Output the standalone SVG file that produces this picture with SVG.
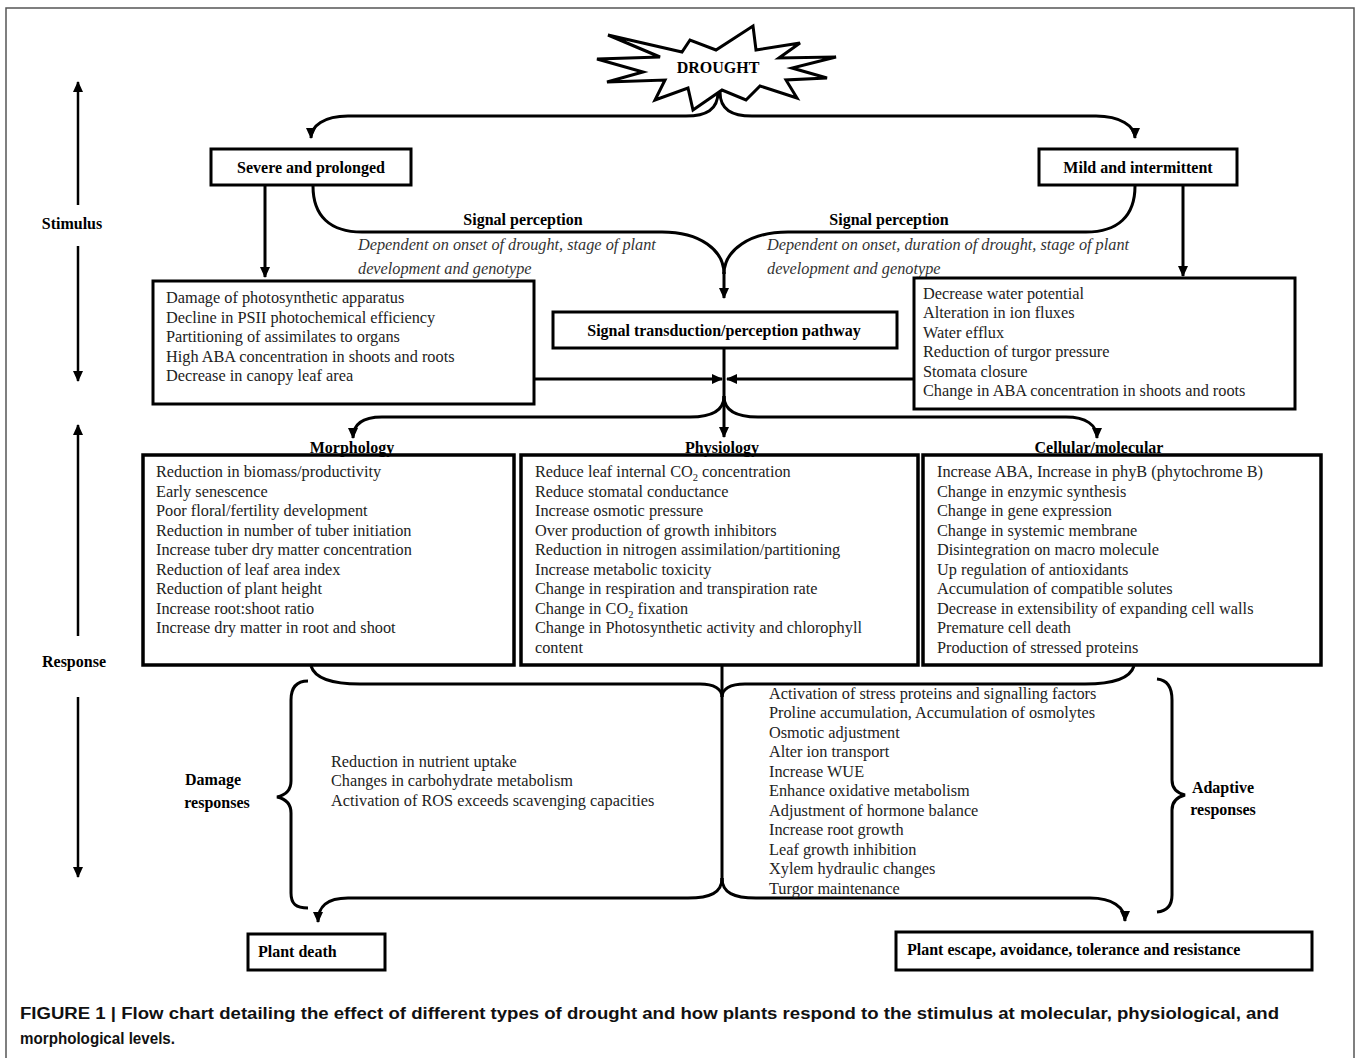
<svg xmlns="http://www.w3.org/2000/svg" width="1360" height="1058" viewBox="0 0 1360 1058">
<defs>
<marker id="ah" markerWidth="12" markerHeight="12" refX="10" refY="6" orient="auto" markerUnits="userSpaceOnUse">
<path d="M0,1 L11,6 L0,11 Z" fill="#000"/>
</marker>
<style>
.box{fill:#fff;stroke:#000;stroke-width:3}
.tbox{fill:#fff;stroke:#000;stroke-width:3.5}
.ln{fill:none;stroke:#000;stroke-width:3}
.ax{fill:none;stroke:#000;stroke-width:2.5}
.b{font-family:"Liberation Serif","Times New Roman",serif;font-weight:bold;font-size:16px;fill:#000}
.t{font-family:"Liberation Serif","Times New Roman",serif;font-size:16.3px;fill:#222}
.i{font-family:"Liberation Serif","Times New Roman",serif;font-style:italic;font-size:16.3px;fill:#333}
.cap{font-family:"Liberation Sans",Arial,sans-serif;font-weight:bold;font-size:16px;fill:#111}
</style>
</defs>
<rect width="1360" height="1058" fill="#fff"/>
<path d="M6,1058 L6,8 L1354,8 L1354,1058" fill="none" stroke="#555" stroke-width="1.5"/>

<g id="connectors">
<path class="ln" d="M718,92 C718,110 706,116 686,116 L348,116 C324,116 311,126 311,138" marker-end="url(#ah)"/>
<path class="ln" d="M720,92 C720,110 732,116 752,116 L1096,116 C1120,116 1135,126 1135,138" marker-end="url(#ah)"/>
<path class="ln" d="M265,186 L265,277" marker-end="url(#ah)"/>
<path class="ln" d="M1183,186 L1183,276" marker-end="url(#ah)"/>
<path class="ln" d="M313,186 C313,216 330,232 362,232 L662,232 C700,232 724,250 724,274"/>
<path class="ln" d="M1135,186 C1135,216 1118,232 1086,232 L788,232 C750,232 724,250 724,274"/>
<path class="ln" d="M724,272 L724,298" marker-end="url(#ah)"/>
<path class="ln" d="M724,348 L724,437" marker-end="url(#ah)"/>
<path class="ln" d="M535,379 L722,379" marker-end="url(#ah)"/>
<path class="ln" d="M914,379 L727,379" marker-end="url(#ah)"/>
<path class="ln" d="M724,396 C724,411 712,417 690,417 L382,417 C362,417 353,425 353,438" marker-end="url(#ah)"/>
<path class="ln" d="M724,396 C724,411 736,417 758,417 L1066,417 C1086,417 1097,425 1097,438" marker-end="url(#ah)"/>
<path class="ln" d="M722,665 L722,882"/>
<path class="ln" d="M311,666 C315,679 332,684 360,684 L700,684 C714,684 722,689 722,697"/>
<path class="ln" d="M1134,666 C1130,679 1112,684 1085,684 L745,684 C730,684 722,689 722,697"/>
<path class="ln" d="M722,878 C722,893 710,898 688,898 L348,898 C326,898 318,907 318,922" marker-end="url(#ah)"/>
<path class="ln" d="M722,878 C722,893 734,898 756,898 L1090,898 C1112,898 1125,907 1125,921" marker-end="url(#ah)"/>
<path class="ln" d="M308,681 C296,681 291,688 291,700 L291,781 C291,790 286,795 277,797 C286,799 291,804 291,813 L291,893 C291,904 296,908 308,908"/>
<path class="ln" d="M1157,679 C1168,680 1172,688 1172,700 L1172,780 C1172,789 1177,793 1185,795 C1177,797 1172,801 1172,810 L1172,895 C1172,905 1168,911 1157,912"/>
<path class="ax" d="M78,205 L78,82" marker-end="url(#ah)"/>
<path class="ax" d="M78,246 L78,381" marker-end="url(#ah)"/>
<path class="ax" d="M78,636 L78,425" marker-end="url(#ah)"/>
<path class="ax" d="M78,697 L78,877" marker-end="url(#ah)"/>
</g>

<g id="drought">
<polygon points="608,35 682,52 690,40 716,50 753,26 756,50 800,43 779,58 836,57 792,68 827,78 786,80 797,98 760,86 746,100 722,90 693,110 688,88 655,100 665,80 607,82 643,72 597,59 660,57" fill="#fff" stroke="#000" stroke-width="3" stroke-linejoin="miter"/>
<text class="b" x="718" y="73" text-anchor="middle">DROUGHT</text>
</g>

<g id="stimulus-label"><text class="b" x="72" y="229" text-anchor="middle">Stimulus</text></g>
<g id="response-label"><text class="b" x="74" y="667" text-anchor="middle">Response</text></g>

<g id="severe">
<rect class="box" x="211" y="149" width="200" height="36"/>
<text class="b" x="311" y="173" text-anchor="middle">Severe and prolonged</text>
</g>
<g id="mild">
<rect class="box" x="1039" y="149" width="198" height="36"/>
<text class="b" x="1138" y="173" text-anchor="middle">Mild and intermittent</text>
</g>

<g id="signal-left">
<text class="b" x="523" y="225" text-anchor="middle">Signal perception</text>
<text class="i" x="358" y="250">Dependent on onset of drought, stage of plant</text>
<text class="i" x="358" y="274">development and genotype</text>
</g>
<g id="signal-right">
<text class="b" x="889" y="225" text-anchor="middle">Signal perception</text>
<text class="i" x="767" y="250">Dependent on onset, duration of drought, stage of plant</text>
<text class="i" x="767" y="274">development and genotype</text>
</g>

<g id="severe-effects">
<rect class="box" x="153" y="281" width="381" height="123"/>
<text class="t" x="166" y="303">Damage of photosynthetic apparatus</text>
<text class="t" x="166" y="323">Decline in PSII photochemical efficiency</text>
<text class="t" x="166" y="342">Partitioning of assimilates to organs</text>
<text class="t" x="166" y="362">High ABA concentration in shoots and roots</text>
<text class="t" x="166" y="381">Decrease in canopy leaf area</text>
</g>

<g id="mild-effects">
<rect class="box" x="914" y="278" width="381" height="131"/>
<text class="t" x="923" y="299">Decrease water potential</text>
<text class="t" x="923" y="318">Alteration in ion fluxes</text>
<text class="t" x="923" y="338">Water efflux</text>
<text class="t" x="923" y="357">Reduction of turgor pressure</text>
<text class="t" x="923" y="377">Stomata closure</text>
<text class="t" x="923" y="396">Change in ABA concentration in shoots and roots</text>
</g>

<g id="signal-transduction">
<rect class="box" x="553" y="312" width="344" height="36"/>
<text class="b" x="724" y="336" text-anchor="middle">Signal transduction/perception pathway</text>
</g>

<g id="morphology">
<rect class="tbox" x="143" y="455" width="371" height="210"/>
<text class="b" x="352" y="453" text-anchor="middle">Morphology</text>
<text class="t" x="156" y="477">Reduction in biomass/productivity</text>
<text class="t" x="156" y="497">Early senescence</text>
<text class="t" x="156" y="516">Poor floral/fertility development</text>
<text class="t" x="156" y="536">Reduction in number of tuber initiation</text>
<text class="t" x="156" y="555">Increase tuber dry matter concentration</text>
<text class="t" x="156" y="575">Reduction of leaf area index</text>
<text class="t" x="156" y="594">Reduction of plant height</text>
<text class="t" x="156" y="614">Increase root:shoot ratio</text>
<text class="t" x="156" y="633">Increase dry matter in root and shoot</text>
</g>

<g id="physiology">
<rect class="tbox" x="521" y="455" width="397" height="210"/>
<text class="b" x="722" y="453" text-anchor="middle">Physiology</text>
<text class="t" x="535" y="477">Reduce leaf internal CO<tspan font-size="10.5" dy="4">2</tspan><tspan dy="-4"> concentration</tspan></text>
<text class="t" x="535" y="497">Reduce stomatal conductance</text>
<text class="t" x="535" y="516">Increase osmotic pressure</text>
<text class="t" x="535" y="536">Over production of growth inhibitors</text>
<text class="t" x="535" y="555">Reduction in nitrogen assimilation/partitioning</text>
<text class="t" x="535" y="575">Increase metabolic toxicity</text>
<text class="t" x="535" y="594">Change in respiration and transpiration rate</text>
<text class="t" x="535" y="614">Change in CO<tspan font-size="10.5" dy="4">2</tspan><tspan dy="-4"> fixation</tspan></text>
<text class="t" x="535" y="633">Change in Photosynthetic activity and chlorophyll</text>
<text class="t" x="535" y="653">content</text>
</g>

<g id="cellular">
<rect class="tbox" x="923" y="455" width="398" height="210"/>
<text class="b" x="1099" y="453" text-anchor="middle">Cellular/molecular</text>
<text class="t" x="937" y="477">Increase ABA, Increase in phyB (phytochrome B)</text>
<text class="t" x="937" y="497">Change in enzymic synthesis</text>
<text class="t" x="937" y="516">Change in gene expression</text>
<text class="t" x="937" y="536">Change in systemic membrane</text>
<text class="t" x="937" y="555">Disintegration on macro molecule</text>
<text class="t" x="937" y="575">Up regulation of antioxidants</text>
<text class="t" x="937" y="594">Accumulation of compatible solutes</text>
<text class="t" x="937" y="614">Decrease in extensibility of expanding cell walls</text>
<text class="t" x="937" y="633">Premature cell death</text>
<text class="t" x="937" y="653">Production of stressed proteins</text>
</g>

<g id="damage">
<text class="b" x="213" y="785" text-anchor="middle">Damage</text>
<text class="b" x="217" y="808" text-anchor="middle">responses</text>
<text class="t" x="331" y="767">Reduction in nutrient uptake</text>
<text class="t" x="331" y="786">Changes in carbohydrate metabolism</text>
<text class="t" x="331" y="806">Activation of ROS exceeds scavenging capacities</text>
</g>

<g id="adaptive">
<text class="b" x="1223" y="793" text-anchor="middle">Adaptive</text>
<text class="b" x="1223" y="815" text-anchor="middle">responses</text>
<text class="t" x="769" y="699">Activation of stress proteins and signalling factors</text>
<text class="t" x="769" y="718">Proline accumulation, Accumulation of osmolytes</text>
<text class="t" x="769" y="738">Osmotic adjustment</text>
<text class="t" x="769" y="757">Alter ion transport</text>
<text class="t" x="769" y="777">Increase WUE</text>
<text class="t" x="769" y="796">Enhance oxidative metabolism</text>
<text class="t" x="769" y="816">Adjustment of hormone balance</text>
<text class="t" x="769" y="835">Increase root growth</text>
<text class="t" x="769" y="855">Leaf growth inhibition</text>
<text class="t" x="769" y="874">Xylem hydraulic changes</text>
<text class="t" x="769" y="894">Turgor maintenance</text>
</g>

<g id="plant-death">
<rect class="box" x="248" y="934" width="137" height="36"/>
<text class="b" x="258" y="957">Plant death</text>
</g>
<g id="plant-escape">
<rect class="box" x="896" y="932" width="416" height="38"/>
<text class="b" x="907" y="955">Plant escape, avoidance, tolerance and resistance</text>
</g>

<g id="caption">
<text class="cap" x="20" y="1019" textLength="1259" lengthAdjust="spacingAndGlyphs">FIGURE 1 | Flow chart detailing the effect of different types of drought and how plants respond to the stimulus at molecular, physiological, and</text>
<text class="cap" x="20" y="1044" textLength="155" lengthAdjust="spacingAndGlyphs">morphological levels.</text>
</g>
</svg>
